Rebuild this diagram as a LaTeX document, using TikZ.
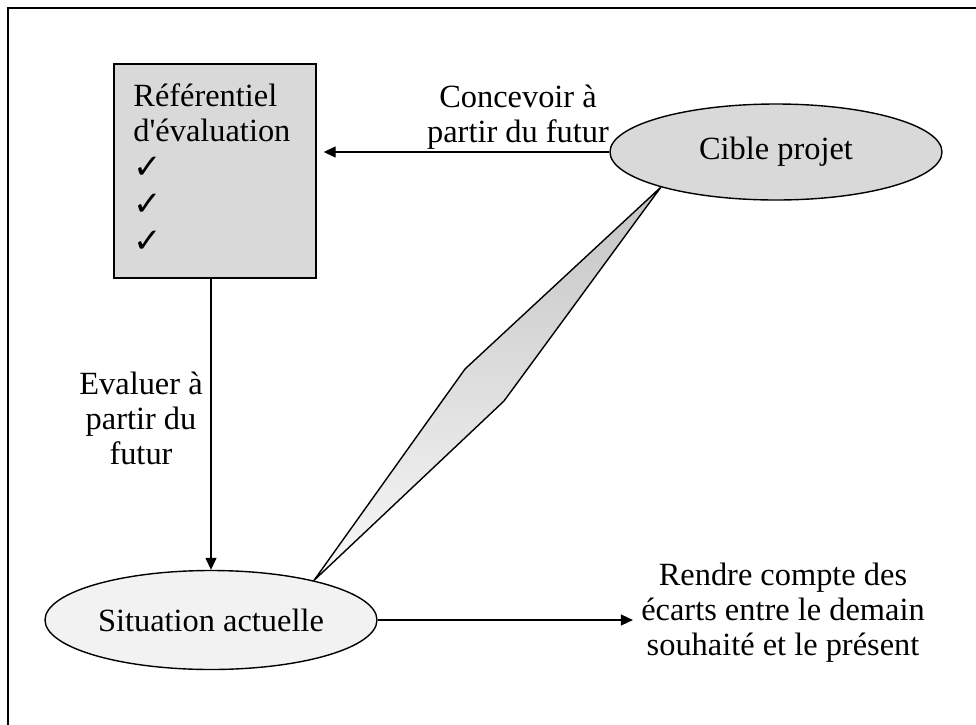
\documentclass[tikz,border=0pt]{standalone}
\usepackage{fontspec}
\setmainfont{Liberation Serif}
\newfontfamily\symbfont{DejaVu Sans}
\usetikzlibrary{arrows.meta,shapes.geometric}
\definecolor{boxgray}{RGB}{217,217,217}
\definecolor{palegray}{RGB}{242,242,242}
\definecolor{gapdark}{RGB}{196,196,196}
\definecolor{gaplight}{RGB}{248,248,248}
\newcommand{\tick}{{\symbfont\fontsize{17}{17.5}\selectfont ✓}}

\begin{document}
\begin{tikzpicture}[x=0.5pt,y=-0.5pt,
	txt/.style={align=center,font=\fontsize{16.2}{17.5}\selectfont},
	bubble/.style={ellipse,draw,line width=0.7pt,inner sep=0pt,txt},
	arr/.style={line width=0.7pt,-{Triangle[length=6pt,width=5.5pt]}}]
	\useasboundingbox (0,0) rectangle (976,724);
	\clip (0,0) rectangle (976,724);
	\draw[line width=1pt] (8,8) rectangle (990,740);
	% referentiel
	\node[draw,fill=boxgray,line width=0.7pt,minimum width=101pt,minimum height=107pt,inner sep=0pt] (ref) at (215,171) {};
	\node[txt,align=left,anchor=north west,inner sep=0pt] (reftext) at (133,83) {R\'ef\'erentiel\\d\textquotesingle\'evaluation\\[1pt]\tick\\[1pt]\tick\\[1pt]\tick};
	\node[bubble,fill=boxgray,minimum width=166pt,minimum height=48pt] (cible) at (776,152) {Cible projet};
	\node[bubble,fill=palegray,minimum width=166pt,minimum height=49.5pt] (sit) at (211,620) {Situation actuelle};
	\node[txt] (concevoir) at (518,117) {Concevoir \`a\\partir du futur};
	\node[txt] (evaluer) at (141,418) {Evaluer \`a\\partir du\\futur};
	\node[txt,inner sep=4pt] (ecarts) at (783,613) {Rendre compte des\\\'ecarts entre le demain\\souhait\'e et le pr\'esent};
	\draw[arr,shorten >=3.5pt] (cible.west) -- (cible.west -| ref.east);
	\draw[arr] (ref.south -| sit.north) -- (sit.north);
	\draw[arr] (sit.east) -- (sit.east -| ecarts.west);
	% ecart
	\coordinate (gapL) at (465,369);
	\coordinate (gapR) at (504,401);
	\shadedraw[top color=gapdark,bottom color=gaplight,line width=0.7pt,line join=round] (cible.197) -- (gapL) -- (sit.21) -- (gapR) -- cycle;
\end{tikzpicture}
\end{document}
